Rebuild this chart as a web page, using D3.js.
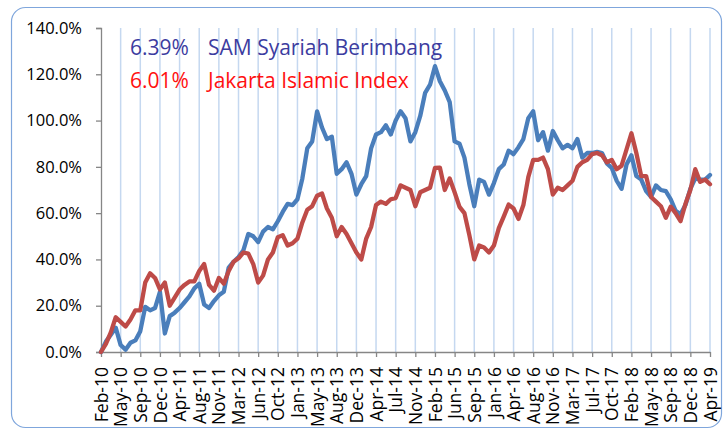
<!DOCTYPE html>
<html>
<head>
<meta charset="utf-8">
<script src="https://d3js.org/d3.v7.min.js"></script>
<style>
    body { margin: 0; background: #fff; }
    svg text { font-family: "Open Sans", sans-serif; }
</style>
</head>
<body>
<svg id="chart" width="723" height="430"></svg>
<script>
// Tick labels on the x axis (evenly spaced categories)
let tickLabels = ["Feb-10", "May-10", "Sep-10", "Dec-10", "Apr-11", "Aug-11", "Nov-11", "Mar-12",
    "Jun-12", "Oct-12", "Jan-13", "May-13", "Aug-13", "Dec-13", "Apr-14", "Jul-14", "Nov-14",
    "Feb-15", "Jun-15", "Sep-15", "Jan-16", "Apr-16", "Aug-16", "Nov-16", "Mar-17", "Jul-17",
    "Oct-17", "Feb-18", "May-18", "Sep-18", "Dec-18", "Apr-19"];

// Cumulative return (%), sampled 4 times per tick interval
let samSyariah = [0, 4.5, 7.5, 10.5, 3, 1, 4, 5, 9, 19.5, 18, 19, 26, 8, 15.5, 17, 19, 21.5, 24, 27.5,
    29.5, 20.5, 19, 22, 24.5, 26, 36.5, 39, 41, 44, 51, 50, 47.5, 52, 54, 53, 56.5, 60.5, 64, 63.5,
    66, 75, 88, 91, 104, 97, 92, 93, 77, 79, 82, 77, 68, 72.5, 76, 88, 94, 95, 98, 94,
    100, 104, 101, 91, 95, 102, 112, 115.5, 123.5, 117, 113, 108, 91, 90, 84, 72.5, 63, 74.5, 73.5, 68,
    73, 79, 81, 87, 85.5, 88.5, 92, 101, 104, 91.5, 95, 87, 95.5, 91.5, 88, 89.5, 88, 92, 84, 86,
    86, 86.5, 86, 81.5, 79.5, 74, 70.5, 81, 85, 76, 74.5, 69.5, 67, 72, 70, 69.5, 66, 61, 59.5, 63.5,
    70.5, 75, 74.5, 74.5, 76.5];

let jakartaIslamic = [0, 3.5, 8.5, 15, 13, 11, 14, 18, 18, 30, 34, 32, 27, 30, 20, 23.5, 27, 29, 30.5, 30.5,
    35, 38, 29, 26.5, 32, 29.5, 35, 39, 40.5, 43, 42.5, 38, 30, 33, 40, 43, 49.6, 50.5, 46, 47,
    49, 56, 61.5, 63, 67.5, 68.5, 62, 58, 50, 54, 51, 47, 43, 40, 49, 54, 63.5, 65, 64, 66,
    66.5, 72, 71, 70, 63, 69, 70, 71, 79.5, 79.7, 70, 75, 69, 62.7, 60, 50.5, 40, 46, 45.2, 43,
    46, 53.5, 58.5, 63.7, 62, 57.5, 63.5, 75.6, 83, 83, 84, 79, 68, 71, 70, 72, 74, 80, 82, 83,
    85.5, 86, 85, 82, 83, 79, 80.5, 87.5, 94.5, 86, 76, 76, 67, 65, 63, 58, 62.8, 60, 56.5, 64,
    70, 79, 73.5, 74.5, 72.5];

let seriesNames = ["SAM Syariah Berimbang", "Jakarta Islamic Index"];
let seriesReturns = ["6.39%", "6.01%"];
let yTicks = [0, 0.2, 0.4, 0.6, 0.8, 1.0, 1.2, 1.4];

let svg = d3.select("#chart");
let lineColors = ["#4a7ebb", "#be4b48"];
let textColors = ["#3c3ca0", "#ff1010"];
let nPoints = samSyariah.length;

// outer frame
svg.append("rect")
    .attr("x", 11.5).attr("y", 7.5)
    .attr("width", 710).attr("height", 420)
    .attr("rx", 14)
    .attr("fill", "#fff")
    .attr("stroke", "#7fa6dc")
    .attr("stroke-width", 1.2);

let xScale = d3.scaleLinear().domain([0, nPoints - 1]).range([101, 710]);
let yScale = d3.scaleLinear().domain([0, 1.4]).range([352, 28]);
let tickPos = tickLabels.map((d, i) => i * (nPoints - 1) / (tickLabels.length - 1));

// vertical gridlines
svg.append("g")
    .selectAll("line")
    .data(tickPos.slice(1))
    .enter().append("line")
    .attr("x1", d => xScale(d)).attr("x2", d => xScale(d))
    .attr("y1", yScale(1.4)).attr("y2", yScale(0))
    .attr("stroke", "#c5d8f0")
    .attr("stroke-width", 1.5);

// y axis
let yAxis = d3.axisLeft(yScale).tickValues(yTicks).tickFormat(d3.format(".1%")).tickSize(5).tickPadding(14);
let yG = svg.append("g").attr("transform", "translate(101,0)").call(yAxis);
yG.select(".domain").attr("stroke", "#868686").attr("stroke-width", 1.3);
yG.selectAll(".tick line").attr("stroke", "#868686").attr("stroke-width", 1.3);
yG.selectAll("text").attr("font-size", 16.5).attr("fill", "#000")
    .style("font-family", "'Open Sans', sans-serif");

// x axis
let xAxis = d3.axisBottom(xScale).tickValues(tickPos)
    .tickFormat((d, i) => tickLabels[i]).tickSize(5).tickSizeOuter(0);
let xG = svg.append("g").attr("transform", "translate(0,352)").call(xAxis);
xG.select(".domain").attr("stroke", "#868686").attr("stroke-width", 1.3);
xG.selectAll(".tick line").attr("stroke", "#868686").attr("stroke-width", 1.3);
xG.selectAll("text")
    .attr("font-size", 17.5).attr("fill", "#000")
    .style("font-family", "'Open Sans', sans-serif")
    .attr("transform", "rotate(-90)")
    .attr("x", -15).attr("y", 0).attr("dy", "0.35em")
    .style("text-anchor", "end");

// lines
let line = d3.line()
    .x((d, i) => xScale(i))
    .y(d => yScale(d / 100));

[samSyariah, jakartaIslamic].forEach((series, s) => {
    svg.append("path")
        .datum(series)
        .attr("d", line)
        .attr("fill", "none")
        .attr("stroke", lineColors[s])
        .attr("stroke-width", 4.3)
        .attr("stroke-linejoin", "round")
        .attr("stroke-linecap", "round");
});

// legend text in the corner
let legend = svg.append("g");
seriesNames.forEach((name, s) => {
    legend.append("text")
        .attr("x", 130).attr("y", 55 + s * 33)
        .attr("font-size", 21).attr("fill", textColors[s])
        .text(seriesReturns[s]);
    legend.append("text")
        .attr("x", 208).attr("y", 55 + s * 33)
        .attr("font-size", 21).attr("fill", textColors[s])
        .text(name);
});
</script>
</body>
</html>
